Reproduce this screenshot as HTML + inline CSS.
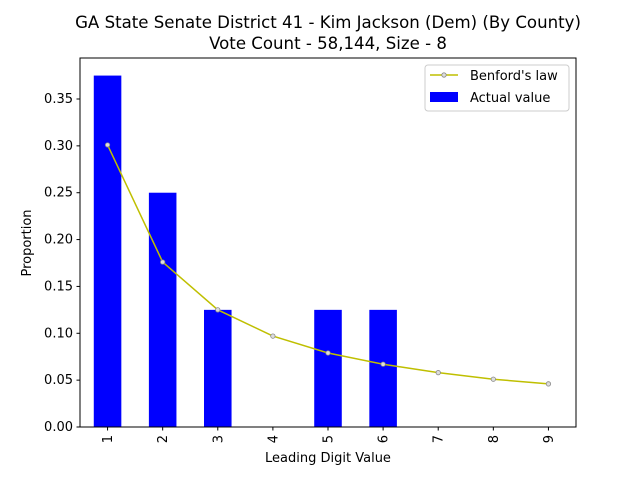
<!DOCTYPE html>
<html><head><meta charset="utf-8"><style>
body{margin:0;background:#fff;font-family:"Liberation Sans","DejaVu Sans",sans-serif;}
</style></head><body>
<svg width="640" height="480" xmlns="http://www.w3.org/2000/svg" font-family="DejaVu Sans, Liberation Sans, sans-serif">
<rect width="640" height="480" fill="#fff"/>
<text x="328" y="28" font-size="16.6" text-anchor="middle">GA State Senate District 41 - Kim Jackson (Dem) (By County)</text>
<text x="328" y="49" font-size="16.6" text-anchor="middle">Vote Count - 58,144, Size - 8</text>
<g id="bars"></g>
<g id="line"></g>
<g id="axes"></g>
<text x="328" y="462" font-size="13" text-anchor="middle">Leading Digit Value</text>
<text x="31" y="243" font-size="13" text-anchor="middle" transform="rotate(-90 31 243)">Proportion</text>
<g>
<rect x="425" y="65" width="144" height="46" fill="#fff" stroke="#ccc" rx="3"/>
<line x1="430" y1="75" x2="458" y2="75" stroke="#bfbf00" stroke-width="1.5"/>
<circle cx="444" cy="75" r="2.2" fill="#ddd" stroke="#888" stroke-width="0.8"/>
<text x="470" y="80" font-size="13">Benford's law</text>
<rect x="430" y="92" width="28" height="10" fill="#0000ff"/>
<text x="470" y="102" font-size="13">Actual value</text>
</g>
<script>
const categories=[1,2,3,4,5,6,7,8,9];
const actualValues=[0.375,0.25,0.125,0,0.125,0.125,0,0,0];
const benfordValues=[0.301,0.176,0.125,0.097,0.079,0.067,0.058,0.051,0.046];
const yTicks=[0,0.05,0.1,0.15,0.2,0.25,0.3,0.35];
const yTickLabels=["0.00","0.05","0.10","0.15","0.20","0.25","0.30","0.35"];
const NS="http://www.w3.org/2000/svg";
const L=80,R=576,T=58,B=427,ymax=0.39375;
const step=(R-L)/9;
const xs=i=>L+step*(i+0.5);
const ys=v=>B-(v/ymax)*(B-T);
function mk(t,a,p){const e=document.createElementNS(NS,t);for(const k in a)e.setAttribute(k,a[k]);p.appendChild(e);return e;}
const bars=document.getElementById('bars');
categories.forEach((c,i)=>{const v=actualValues[i];const w=step*0.5;
const r=mk('rect',{x:xs(i)-w/2,y:ys(v),width:w,height:B-ys(v),fill:'#0000ff'},bars);

});
const lg=document.getElementById('line');
const pl=mk('polyline',{points:benfordValues.map((v,i)=>xs(i)+','+ys(v)).join(' '),fill:'none',stroke:'#bfbf00','stroke-width':1.5},lg);


benfordValues.forEach((v,i)=>{const c=mk('circle',{cx:xs(i),cy:ys(v),r:2.2,fill:'#ddd',stroke:'#888','stroke-width':0.8},lg);

});
const ax=document.getElementById('axes');
const f=mk('rect',{x:L,y:T,width:R-L,height:B-T,fill:'none',stroke:'#000','stroke-width':1},ax);


yTicks.forEach((v,i)=>{mk('line',{x1:L-3.5,x2:L,y1:ys(v),y2:ys(v),stroke:'#000'},ax);
const t=mk('text',{x:L-7,y:ys(v)+4,'font-size':13,'text-anchor':'end'},ax);t.textContent=yTickLabels[i];

});
categories.forEach((c,i)=>{mk('line',{x1:xs(i),x2:xs(i),y1:B,y2:B+3.5,stroke:'#000'},ax);
const t=mk('text',{x:xs(i)+4.5,y:B+8,'font-size':13,'text-anchor':'end',transform:'rotate(-90 '+(xs(i)+4.5)+' '+(B+8)+')'},ax);t.textContent=c;

});
</script>
</svg>
</body></html>
